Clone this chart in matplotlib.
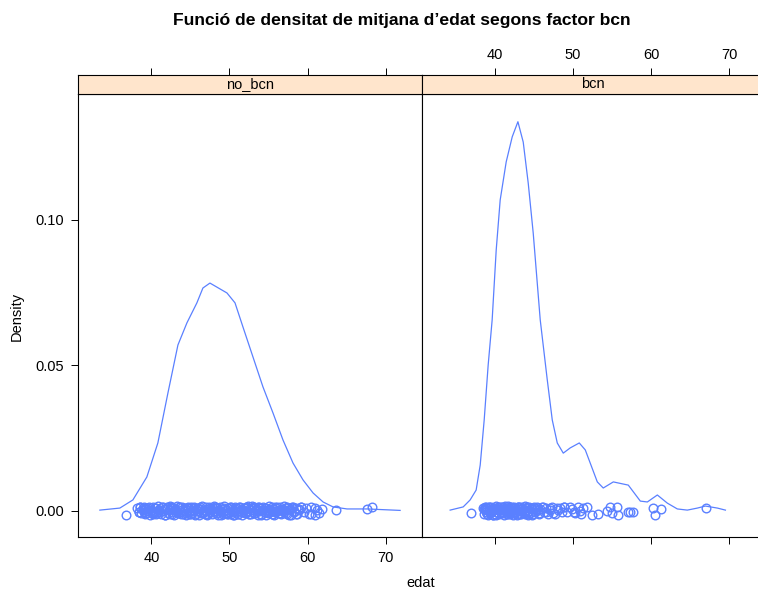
import numpy as np
import matplotlib
matplotlib.use('Agg')
from matplotlib import pyplot as plt

plt.rcParams['font.family'] = ['Liberation Sans', 'DejaVu Sans']

# density curves
no_bcn_x = [33.40, 35.96, 37.63, 39.42, 40.83, 42.12, 43.40, 44.55, 45.83, 46.60,
            47.50, 49.68, 50.71, 51.73, 53.01, 54.29, 55.58, 56.86, 58.14, 59.42,
            60.71, 61.99, 63.27, 65.06, 67.63, 71.86]
no_bcn_dens = [0.0002, 0.0009, 0.0037, 0.0116, 0.0233, 0.0405, 0.0570, 0.0646, 0.0715, 0.0766,
               0.0783, 0.0749, 0.0715, 0.0632, 0.0529, 0.0426, 0.0336, 0.0243, 0.0164, 0.0106,
               0.0061, 0.0030, 0.0013, 0.0006, 0.0006, 0.0001]

bcn_x = [34.27, 35.94, 36.83, 37.60, 38.12, 38.63, 39.14, 39.65, 40.17, 40.68,
         41.45, 42.22, 42.95, 43.63, 44.27, 44.91, 45.81, 46.71, 47.35, 47.99,
         48.76, 49.65, 50.81, 51.58, 53.12, 53.88, 55.17, 57.09, 58.63, 59.53,
         60.81, 62.09, 63.37, 64.65, 65.94, 66.96, 68.50, 69.53]
bcn_dens = [0.0002, 0.0013, 0.0037, 0.0071, 0.0157, 0.0312, 0.0501, 0.0656, 0.0897, 0.1069,
            0.1200, 0.1286, 0.1338, 0.1268, 0.1127, 0.0955, 0.0656, 0.0450, 0.0312, 0.0233,
            0.0198, 0.0216, 0.0233, 0.0209, 0.0099, 0.0078, 0.0099, 0.0088, 0.0033, 0.0030,
            0.0054, 0.0026, 0.0006, 0.0002, 0.0009, 0.0016, 0.0009, 0.0002]

# observed ages (rug points) and their vertical jitter (units of 1e-4)
no_bcn_edat = [36.8, 38.2, 38.4, 38.6, 38.7, 38.9, 39.0, 39.2, 39.3, 39.5,
               39.6, 39.8, 39.9, 40.1, 40.2, 40.4, 40.5, 40.6, 40.8, 40.9,
               41.0, 41.2, 41.3, 41.4, 41.6, 41.7, 41.8, 42.0, 42.1, 42.2,
               42.4, 42.5, 42.6, 42.8, 42.9, 43.0, 43.1, 43.3, 43.4, 43.5,
               43.7, 43.8, 43.9, 44.0, 44.2, 44.3, 44.4, 44.6, 44.7, 44.8,
               44.9, 45.1, 45.2, 45.3, 45.5, 45.6, 45.7, 45.8, 46.0, 46.1,
               46.2, 46.4, 46.5, 46.6, 46.7, 46.9, 47.0, 47.1, 47.3, 47.4,
               47.5, 47.6, 47.8, 47.9, 48.0, 48.2, 48.3, 48.4, 48.5, 48.7,
               48.8, 48.9, 49.1, 49.2, 49.3, 49.4, 49.6, 49.7, 49.8, 50.0,
               50.1, 50.2, 50.3, 50.5, 50.6, 50.7, 50.9, 51.0, 51.1, 51.2,
               51.4, 51.5, 51.6, 51.8, 51.9, 52.0, 52.1, 52.3, 52.4, 52.5,
               52.7, 52.8, 52.9, 53.0, 53.2, 53.3, 53.4, 53.6, 53.7, 53.8,
               53.9, 54.1, 54.2, 54.3, 54.5, 54.6, 54.7, 54.8, 55.0, 55.1,
               55.2, 55.4, 55.5, 55.6, 55.7, 55.9, 56.0, 56.1, 56.3, 56.4,
               56.5, 56.6, 56.8, 56.9, 57.0, 57.2, 57.3, 57.4, 57.6, 57.8,
               57.9, 58.1, 58.3, 58.5, 58.7, 58.9, 59.2, 59.5, 59.8, 60.2,
               60.5, 60.9, 61.2, 61.5, 61.9, 63.6, 67.6, 68.2, 38.5, 40.3,
               42.7, 45.0, 47.7, 50.4, 53.1, 55.8, 58.0, 60.4, 61.0, 39.1,
               39.05, 39.35, 39.65, 39.95, 40.25, 40.55, 40.85, 41.15, 41.45, 41.75,
               42.05, 42.35, 42.65, 42.95, 43.25, 43.55, 43.85, 44.15, 44.45, 44.75,
               45.05, 45.35, 45.65, 45.95, 46.25, 46.55, 46.85, 47.15, 47.45, 47.75,
               48.05, 48.35, 48.65, 48.95, 49.25, 49.55, 49.85, 50.15, 50.45, 50.75,
               51.05, 51.35, 51.65, 51.95, 52.25, 52.55, 52.85, 53.15, 53.45, 53.75,
               54.05, 54.35, 54.65, 54.95, 55.25, 55.55, 55.85, 56.15, 56.45, 56.75,
               57.05, 57.35, 57.65, 57.95, 58.25, 58.55, 58.85, 59.15, 38.35, 38.95]
no_bcn_jit = [-14, 8, -5, 12, -9, 3, 14, -12, 6, -2,
              10, -15, 4, -7, 13, -3, 9, -11, 15, -6,
              2, -13, 11, -1, 7, -16, 5, 14, -8, 1,
              -10, 12, -4, 9, -14, 6, -1, 15, -9, 3,
              11, -6, 13, -12, 0, 8, -15, 4, 10, -3,
              -11, 14, -7, 2, 12, -13, 5, -2, 9, -16,
              7, -8, 15, -4, 1, -10, 11, -14, 6, 13,
              -5, 3, -12, 10, -1, 14, -9, 8, -15, 4,
              12, -3, 6, -11, 15, -7, 2, -13, 9, -6,
              13, -10, 5, 0, -14, 11, -4, 8, -12, 14,
              -2, 7, -16, 10, 3, -9, 12, -5, 15, -11,
              1, -13, 9, -3, 14, -8, 6, -15, 11, -1,
              8, -12, 4, 13, -6, 10, -14, 2, -9, 15,
              -4, 12, -10, 6, -16, 9, -2, 14, -7, 3,
              11, -13, 5, -1, 15, -8, 10, -12, 2, 7,
              -15, 13, -3, 9, -11, 4, 14, -6, 8, -10,
              12, -14, 3, -9, 5, 1, 6, 12, 11, -8,
              13, -11, 7, -15, 10, -5, 14, -13, 9, -4,
              5, -9, 13, -2, -13, 10, 1, -6, 12, -15,
              7, 15, -10, 4, -5, 11, -13, 2, -8, 14,
              -1, 9, -14, 5, 13, -7, 0, -12, 10, -4,
              15, -9, 3, -15, 8, 1, -11, 12, -3, 6,
              -13, 14, -6, 9, -2, -10, 15, -8, 4, 11,
              -14, 2, 10, -5, 7, -12, 13, -1, -9, 5,
              -6, 12, -15, 8, 0, -11, 6, 14, -4, 9]

bcn_edat = [37.0, 38.5, 38.6, 38.7, 38.8, 38.9, 39.0, 39.1, 39.2, 39.3,
            39.4, 39.5, 39.6, 39.7, 39.8, 39.9, 40.0, 40.1, 40.2, 40.3,
            40.4, 40.5, 40.6, 40.7, 40.8, 40.9, 41.0, 41.1, 41.2, 41.3,
            41.4, 41.5, 41.6, 41.7, 41.8, 41.9, 42.0, 42.1, 42.2, 42.3,
            42.4, 42.5, 42.6, 42.7, 42.8, 42.9, 43.0, 43.1, 43.2, 43.3,
            43.4, 43.5, 43.6, 43.7, 43.8, 43.9, 44.0, 44.1, 44.2, 44.4,
            44.5, 44.7, 44.8, 45.0, 45.2, 45.4, 45.6, 45.8, 46.0, 46.3,
            46.5, 46.8, 47.0, 47.3, 47.5, 47.9, 48.3, 48.6, 48.9, 49.3,
            49.6, 49.9, 50.3, 50.6, 50.9, 51.3, 51.8, 52.5, 53.2, 54.4,
            54.8, 55.0, 55.7, 55.8, 57.0, 57.3, 57.7, 60.3, 60.5, 61.3,
            67.0, 39.2, 40.5, 41.9, 43.0, 44.3, 38.8, 42.0, 43.9, 45.1,
            38.65, 38.95, 39.25, 39.55, 39.85, 40.15, 40.45, 40.75, 41.05, 41.35,
            41.65, 41.95, 42.25, 42.55, 42.85, 43.15, 43.45, 43.75, 44.05, 44.35,
            44.6, 44.9, 45.3, 45.7, 46.1, 46.6, 47.1, 47.7, 48.1, 48.8,
            50.1, 51.0, 38.7, 39.75, 40.95, 41.55, 42.45, 43.35, 44.25, 45.5]
bcn_jit = [-8, 10, -12, 5, 14, -4, 9, -15, 2, 12,
           -7, 13, -1, -14, 8, 3, -11, 15, -5, 6,
           11, -13, 1, 14, -9, 7, -3, 12, -16, 4,
           -6, 10, -12, 15, 0, -10, 13, -4, 8, -14,
           3, 12, -8, 6, -15, 11, -2, 14, -11, 5,
           -13, 9, 1, -7, 15, -12, 4, 10, -5, 13,
           -9, 7, -14, 11, -3, 14, -10, 6, 12, -6,
           9, -13, 4, 12, -7, 8, 10, -4, 14, -5,
           13, 6, -8, 11, -1, 9, 14, -14, -12, 0,
           12, -8, 12, -14, -5, -3, -4, 10, -14, 6,
           8, -2, 5, -9, 12, -11, 2, 7, -6, 10,
           6, -11, 14, -3, 9, -14, 2, 11, -7, 15,
           -10, 4, 12, -6, -13, 7, 0, -9, 13, -2,
           10, -12, 5, -8, 14, -4, 9, -11, 3, 12,
           -6, -13, 13, -15, 4, 8, -5, 11, -14, 1]

panels = ['no_bcn', 'bcn']
xticks = [40, 50, 60, 70]
yticks = [0.00, 0.05, 0.10]
yticklabels = ['0.00', '0.05', '0.10']

blue = '#5a80ff'
strip_col = '#ffe5cc'
fs = 10.5
xlim = (30.6, 74.6)
ylim = (-0.00905, 0.14334)

W, H = 758, 591
fig = plt.figure(figsize=(W / 100, H / 100), dpi=100)

px_left = [78, 421.5]
pw = 343.5
p_top, p_bot = 94, 537
strip_h = 19

curves = [(no_bcn_x, no_bcn_dens), (bcn_x, bcn_dens)]
points = [(no_bcn_edat, no_bcn_jit), (bcn_edat, bcn_jit)]

for i, name in enumerate(panels):
    ax = fig.add_axes([px_left[i] / W, 1 - p_bot / H, pw / W, (p_bot - p_top) / H])
    sx = fig.add_axes([px_left[i] / W, 1 - p_top / H, pw / W, strip_h / H])

    xs, ds = curves[i]
    ax.plot(xs, ds, color=blue, lw=0.9)
    ex, jt = points[i]
    ax.plot(ex, np.array(jt) / 10000.0, 'o', ms=6.2, mfc='none', mec=blue, mew=1.0)

    ax.set_xlim(xlim)
    ax.set_ylim(ylim)
    ax.set_xticks(xticks)
    ax.set_yticks(yticks)
    ax.tick_params(direction='out', length=5.3, width=0.7, labelsize=fs, pad=5)
    ax.tick_params(axis='y', pad=5)
    if i == 0:
        ax.set_yticklabels(yticklabels)
        ax.set_xticklabels([str(t) for t in xticks])
    else:
        ax.tick_params(left=False, labelleft=False, labelbottom=False)
    for sp in ax.spines.values():
        sp.set_linewidth(0.8)
        sp.set_color('black')

    # strip with the panel label and the top ticks
    sx.set_facecolor(strip_col)
    sx.set_xlim(xlim)
    sx.set_yticks([])
    sx.set_xticks(xticks)
    sx.xaxis.tick_top()
    sx.tick_params(direction='out', length=5.3, width=0.7, labelsize=fs, pad=4)
    if i == 0:
        sx.tick_params(labeltop=False)
    for sp in sx.spines.values():
        sp.set_linewidth(0.8)
        sp.set_color('black')
    sx.text(0.5, 0.5, name, transform=sx.transAxes, ha='center', va='center', fontsize=fs)

fig.text(402 / W, 1 - 20 / H, 'Funció de densitat de mitjana d\u2019edat segons factor bcn',
         ha='center', va='center', fontsize=12.6, fontweight='bold')
fig.text(421 / W, 1 - 583 / H, 'edat', ha='center', va='center', fontsize=fs)
fig.text(17 / W, 1 - 316 / H, 'Density', ha='center', va='center', rotation=90, fontsize=fs)

fig.savefig('out.png', dpi=100)
